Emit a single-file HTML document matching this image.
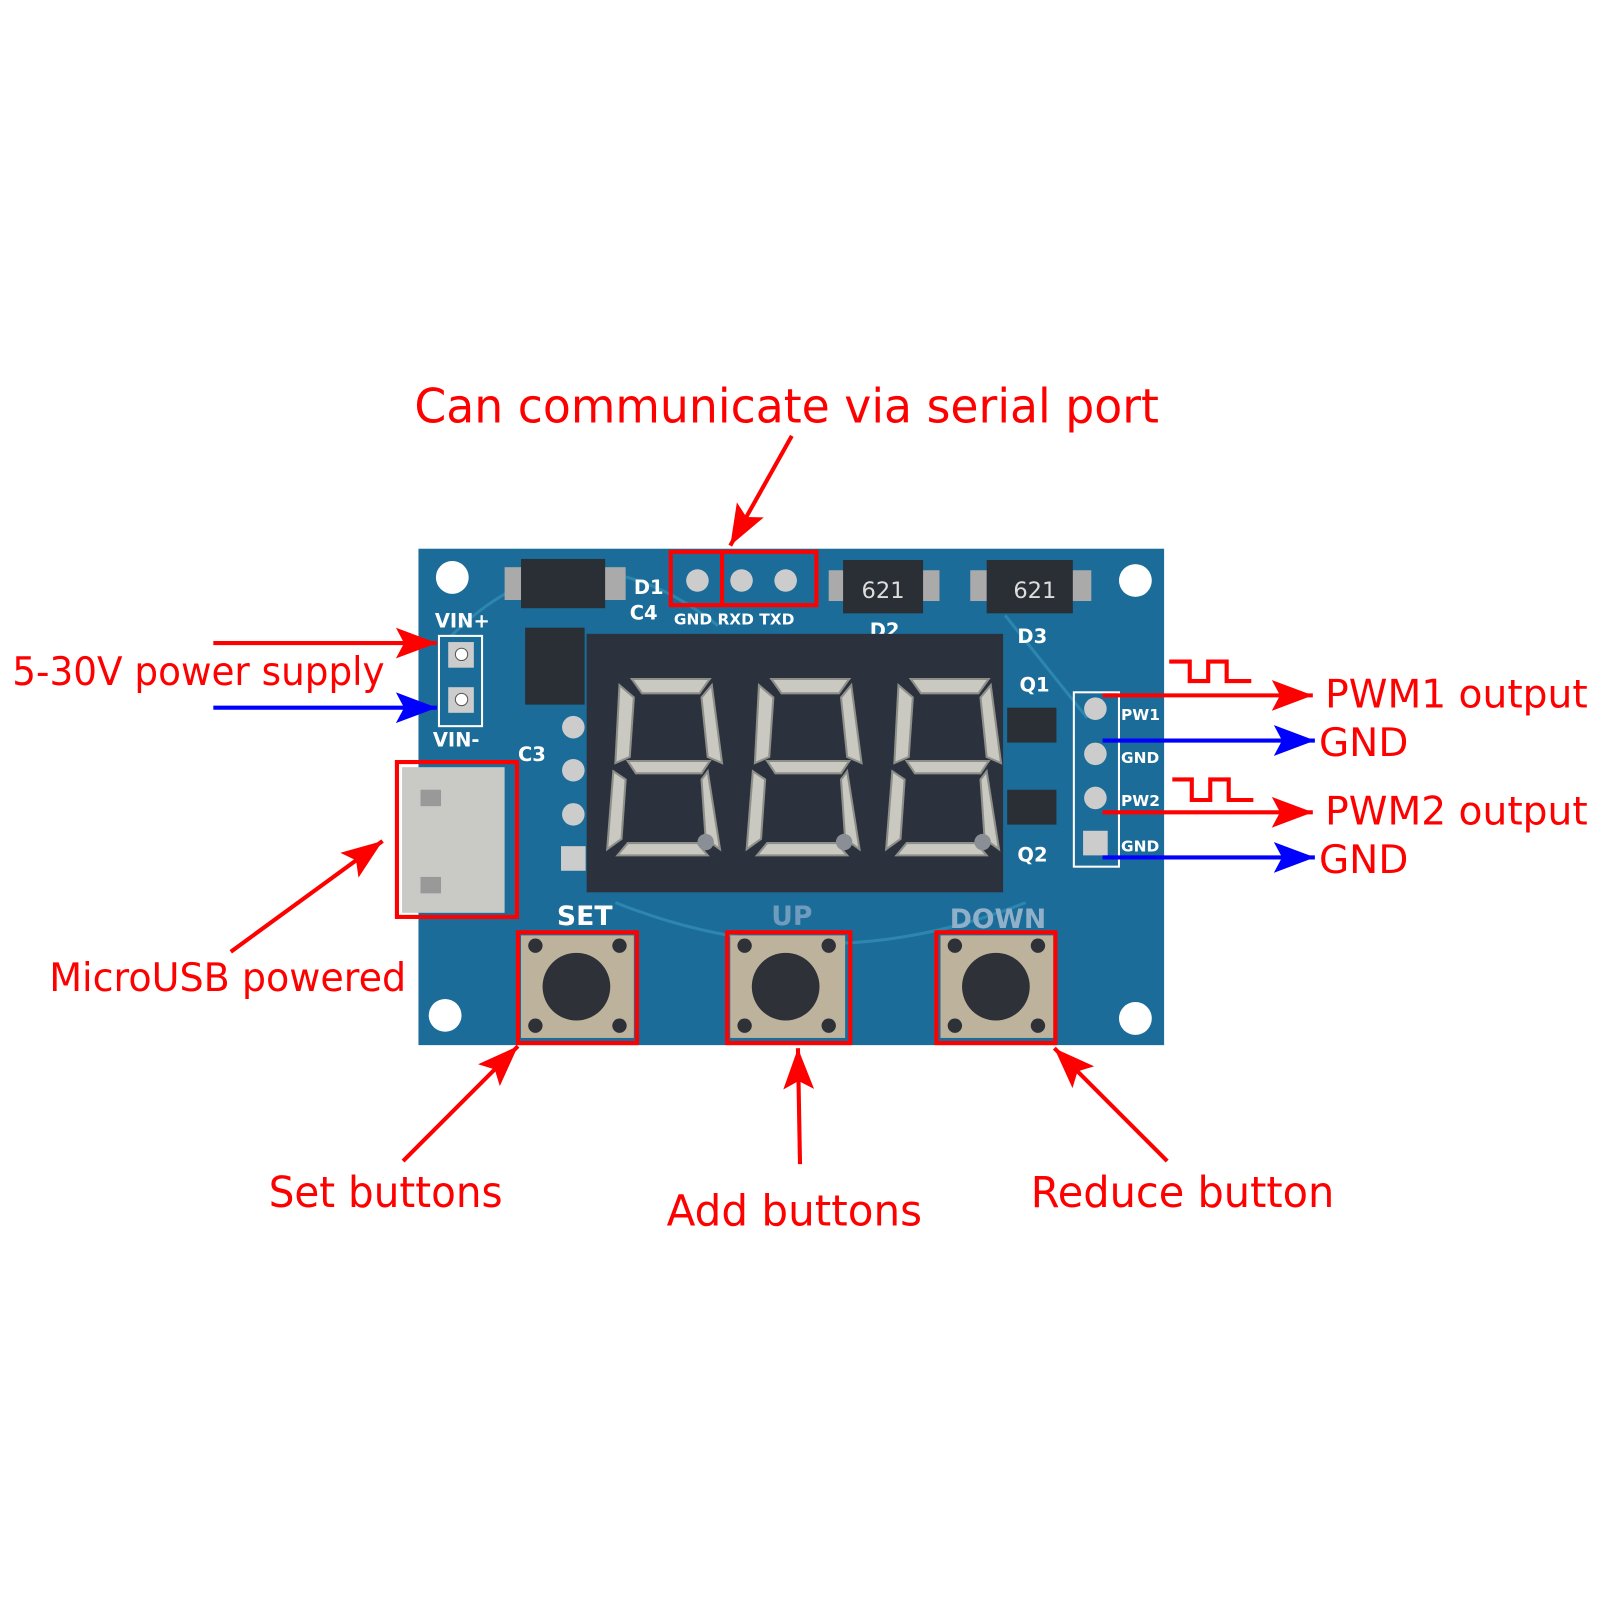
<!DOCTYPE html>
<html><head><meta charset="utf-8"><style>
html,body{margin:0;padding:0;background:#fff;width:1600px;height:1600px;overflow:hidden}
svg{display:block}
text{font-family:"DejaVu Sans","Liberation Sans",sans-serif}
</style></head><body>
<svg width="1600" height="1600" viewBox="0 0 1560 1560" xmlns="http://www.w3.org/2000/svg">
<defs>
<marker id="ar" markerWidth="10" markerHeight="8" refX="9" refY="4" orient="auto" markerUnits="userSpaceOnUse" viewBox="0 0 10 8"><path d="M0,0 L10,4 L0,8 Z" fill="#f00"/></marker>
<marker id="rh" viewBox="0 0 40 30" refX="40" refY="15" markerWidth="40" markerHeight="30" orient="auto" markerUnits="userSpaceOnUse"><path d="M0,0 L40,15 L0,30 L8,15 Z" fill="#f00"/></marker>
<marker id="bh" viewBox="0 0 40 30" refX="40" refY="15" markerWidth="40" markerHeight="30" orient="auto" markerUnits="userSpaceOnUse"><path d="M0,0 L40,15 L0,30 L8,15 Z" fill="#00f"/></marker>
<g id="dig" fill="#c9c9c2" stroke="#8f8f8a" stroke-width="2">
<path d="M12,0 L88,0 L78,14 L22,14 Z"/>
<path d="M0,6 L14,18 L10,76 L-4,82 Z"/>
<path d="M90,6 L100,82 L86,76 L80,18 Z"/>
<path d="M8,80 L88,80 L80,92 L16,92 Z"/>
<path d="M-6,90 L6,98 L2,156 L-12,166 Z"/>
<path d="M86,90 L98,166 L84,156 L80,98 Z"/>
<path d="M-2,172 L8,160 L76,160 L86,172 Z"/>
</g>
</defs>
<!-- board -->
<rect x="408" y="535" width="727" height="484" fill="#1b6c98"/>
<path d="M440 620 Q560 500 700 610 M980 600 L1060 700 M600 880 Q800 960 1000 880" stroke="#2c86ae" stroke-width="3" fill="none"/>
<circle cx="441" cy="563" r="16" fill="#fff"/><circle cx="1107" cy="566" r="16" fill="#fff"/>
<circle cx="434" cy="990" r="16" fill="#fff"/><circle cx="1107" cy="993" r="16" fill="#fff"/>
<!-- top components -->
<rect x="492" y="553" width="118" height="32" fill="#aaa"/><rect x="508" y="545" width="82" height="48" fill="#2a2e35"/>
<rect x="808" y="556" width="108" height="30" fill="#aaa"/><rect x="822" y="546" width="78" height="52" fill="#2a2e35"/>
<rect x="946" y="556" width="118" height="30" fill="#aaa"/><rect x="962" y="546" width="84" height="52" fill="#2a2e35"/>
<text x="840" y="583" font-size="22" fill="#ddd">621</text><text x="988" y="583" font-size="22" fill="#ddd">621</text>
<rect x="512" y="612" width="58" height="75" fill="#2a2e35"/>
<g fill="#fff" font-size="19" font-weight="bold"><text x="618" y="579">D1</text><text x="614" y="604">C4</text><text x="657" y="609" font-size="15">GND RXD TXD</text><text x="848" y="621">D2</text><text x="992" y="627">D3</text><text x="424" y="612">VIN+</text><text x="422" y="728">VIN-</text><text x="505" y="742">C3</text><text x="994" y="674">Q1</text><text x="992" y="840">Q2</text>
<text x="543" y="902" font-size="26">SET</text><text x="752" y="902" font-size="26" fill="#6d9cbc">UP</text><text x="926" y="905" font-size="26" fill="#8fb0c8">DOWN</text>
<text x="1093" y="702" font-size="15">PW1</text><text x="1093" y="744" font-size="15">GND</text><text x="1093" y="786" font-size="15">PW2</text><text x="1093" y="830" font-size="15">GND</text></g>
<!-- header pins -->
<rect x="428" y="620" width="42" height="88" fill="none" stroke="#fff" stroke-width="2"/>
<rect x="437" y="626" width="25" height="25" fill="#ccc"/><circle cx="450" cy="638" r="6" fill="#fff" stroke="#555"/>
<rect x="437" y="670" width="25" height="25" fill="#ccc"/><circle cx="450" cy="682" r="6" fill="#fff" stroke="#555"/>
<g fill="#ccc"><circle cx="680" cy="566" r="11"/><circle cx="723" cy="566" r="11"/><circle cx="766" cy="566" r="11"/>
<circle cx="559" cy="709" r="11"/><circle cx="559" cy="751" r="11"/><circle cx="559" cy="794" r="11"/><rect x="547" y="825" width="24" height="24"/>
<circle cx="1068" cy="691" r="11"/><circle cx="1068" cy="735" r="11"/><circle cx="1068" cy="778" r="11"/><rect x="1056" y="810" width="24" height="24"/></g>
<rect x="1047" y="675" width="44" height="170" fill="none" stroke="#fff" stroke-width="2"/>
<rect x="982" y="690" width="48" height="34" fill="#2a2e35"/><rect x="982" y="770" width="48" height="34" fill="#2a2e35"/>
<!-- display -->
<rect x="572" y="618" width="406" height="252" fill="#2b323e"/>
<use href="#dig" transform="translate(604,662)"/><use href="#dig" transform="translate(740,662)"/><use href="#dig" transform="translate(876,662)"/>
<circle cx="688" cy="821" r="8" fill="#8a8f95"/><circle cx="823" cy="821" r="8" fill="#8a8f95"/><circle cx="958" cy="821" r="8" fill="#8a8f95"/>
<!-- usb -->
<rect x="392" y="748" width="100" height="142" fill="#c9c9c6"/><rect x="410" y="770" width="20" height="16" fill="#999"/><rect x="410" y="855" width="20" height="16" fill="#999"/>
<!-- buttons -->
<g><rect x="508" y="912" width="110" height="100" fill="#bdb39c"/><circle cx="562" cy="962" r="33" fill="#2e3138"/>
<rect x="712" y="912" width="112" height="100" fill="#bdb39c"/><circle cx="766" cy="962" r="33" fill="#2e3138"/>
<rect x="917" y="912" width="110" height="100" fill="#bdb39c"/><circle cx="971" cy="962" r="33" fill="#2e3138"/>
<g fill="#2e3138"><circle cx="522" cy="922" r="7"/><circle cx="604" cy="922" r="7"/><circle cx="522" cy="1000" r="7"/><circle cx="604" cy="1000" r="7"/>
<circle cx="726" cy="922" r="7"/><circle cx="808" cy="922" r="7"/><circle cx="726" cy="1000" r="7"/><circle cx="808" cy="1000" r="7"/>
<circle cx="931" cy="922" r="7"/><circle cx="1012" cy="922" r="7"/><circle cx="931" cy="1000" r="7"/><circle cx="1012" cy="1000" r="7"/></g></g>
<!-- red boxes -->
<g fill="none" stroke="#f00" stroke-width="4">
<rect x="654" y="538" width="142" height="52"/><line x1="704" y1="538" x2="704" y2="590"/>
<rect x="387" y="743" width="117" height="151"/>
<rect x="505" y="909" width="116" height="108"/><rect x="709" y="909" width="120" height="108"/><rect x="913" y="909" width="116" height="108"/>
</g>
<!-- arrows -->
<g stroke="#f00" stroke-width="4" fill="none">
<line x1="772" y1="425" x2="712" y2="532" marker-end="url(#rh)"/>
<line x1="208" y1="627" x2="426" y2="627" marker-end="url(#rh)"/>
<line x1="225" y1="928" x2="373" y2="820" marker-end="url(#rh)"/>
<line x1="393" y1="1132" x2="505" y2="1020" marker-end="url(#rh)"/>
<line x1="780" y1="1135" x2="778" y2="1022" marker-end="url(#rh)"/>
<line x1="1138" y1="1132" x2="1028" y2="1022" marker-end="url(#rh)"/>
<line x1="1075" y1="678" x2="1280" y2="678" marker-end="url(#rh)"/>
<line x1="1075" y1="792" x2="1280" y2="792" marker-end="url(#rh)"/>
<path d="M1140 645 H1160 V664 H1178 V645 H1196 V664 H1220"/>
<path d="M1143 760 H1162 V780 H1180 V760 H1198 V780 H1222"/>
</g>
<g stroke="#00f" stroke-width="4">
<line x1="208" y1="690" x2="426" y2="690" marker-end="url(#bh)"/>
<line x1="1075" y1="722" x2="1282" y2="722" marker-end="url(#bh)"/>
<line x1="1075" y1="836" x2="1282" y2="836" marker-end="url(#bh)"/>
</g>
<!-- labels -->
<g fill="#f00">
<text x="404" y="412" font-size="46" textLength="726" lengthAdjust="spacingAndGlyphs">Can communicate via serial port</text>
<text x="12" y="668" font-size="38" textLength="363" lengthAdjust="spacingAndGlyphs">5-30V power supply</text>
<text x="48" y="966" font-size="38" textLength="348" lengthAdjust="spacingAndGlyphs">MicroUSB powered</text>
<text x="1292" y="690" font-size="38" textLength="256" lengthAdjust="spacingAndGlyphs">PWM1 output</text>
<text x="1286" y="737" font-size="38">GND</text>
<text x="1292" y="804" font-size="38" textLength="256" lengthAdjust="spacingAndGlyphs">PWM2 output</text>
<text x="1286" y="851" font-size="38">GND</text>
<text x="262" y="1177" font-size="42" textLength="228" lengthAdjust="spacingAndGlyphs">Set buttons</text>
<text x="650" y="1195" font-size="42" textLength="249" lengthAdjust="spacingAndGlyphs">Add buttons</text>
<text x="1005" y="1177" font-size="42" textLength="296" lengthAdjust="spacingAndGlyphs">Reduce button</text>
</g>
</svg>
</body></html>
